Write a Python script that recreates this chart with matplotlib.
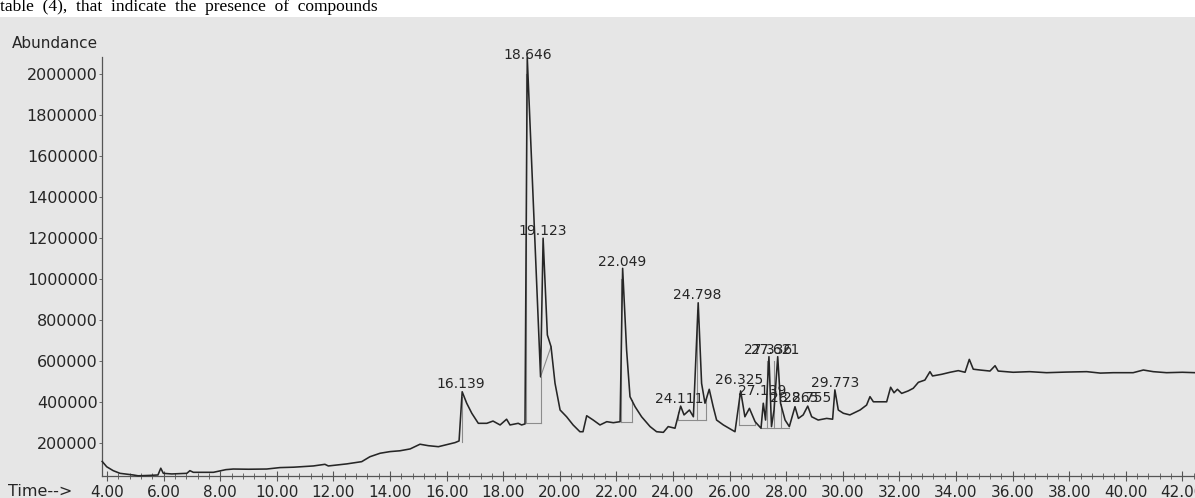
import matplotlib
matplotlib.use("Agg")
import matplotlib.pyplot as plt
from matplotlib.patches import Rectangle
from matplotlib.ticker import FixedLocator, MultipleLocator, FuncFormatter

# ---------------- data ----------------
time_min = [
    3.83, 3.99, 4.22, 4.46, 4.93, 5.10, 5.52, 5.80, 5.90, 5.99,
    6.29, 6.82, 6.93, 7.05, 7.76, 8.20, 8.46, 9.00, 9.64, 10.11,
    10.60, 11.29, 11.70, 11.82, 12.47, 13.00, 13.29, 13.65, 14.00, 14.35,
    14.71, 15.06, 15.35, 15.71, 16.00, 16.30, 16.44, 16.55, 16.71, 16.89,
    17.12, 17.42, 17.64, 17.89, 18.12, 18.24, 18.53, 18.65, 18.77, 18.85,
    19.32, 19.41, 19.56, 19.69, 19.83, 20.01, 20.24, 20.47, 20.71, 20.82,
    20.95, 21.18, 21.42, 21.66, 21.89, 22.13, 22.22, 22.36, 22.48, 22.66,
    22.89, 23.19, 23.42, 23.66, 23.83, 24.07, 24.27, 24.39, 24.58, 24.72,
    24.89, 25.01, 25.13, 25.28, 25.42, 25.54, 25.78, 26.19, 26.39, 26.54,
    26.70, 26.90, 27.11, 27.19, 27.27, 27.39, 27.48, 27.57, 27.70, 27.80,
    27.96, 28.11, 28.31, 28.43, 28.60, 28.76, 28.90, 29.13, 29.43, 29.64,
    29.72, 29.84, 30.02, 30.25, 30.61, 30.84, 30.96, 31.08, 31.37, 31.55,
    31.69, 31.81, 31.93, 32.08, 32.31, 32.49, 32.67, 32.90, 33.08, 33.17,
    33.49, 33.79, 34.08, 34.32, 34.47, 34.61, 34.85, 35.20, 35.38, 35.49,
    36.02, 36.60, 37.20, 37.90, 38.62, 39.10, 39.56, 40.26, 40.62, 40.97,
    41.44, 42.00, 42.45,
]
abundance = [
    110000, 84000, 65000, 52000, 44000, 40000, 42000, 44000, 77000, 52000,
    49000, 52000, 65000, 57000, 57000, 70000, 73000, 72000, 73000, 80000,
    82000, 88000, 96000, 88000, 98000, 109000, 133000, 150000, 158000, 162000,
    171000, 194000, 187000, 182000, 192000, 202000, 210000, 450000, 394000, 345000,
    296000, 296000, 307000, 288000, 316000, 288000, 296000, 288000, 293000, 2080000,
    523000, 1199000, 727000, 670000, 492000, 361000, 328000, 288000, 255000, 255000,
    333000, 312000, 288000, 304000, 299000, 304000, 1052000, 654000, 426000, 377000,
    328000, 280000, 255000, 252000, 280000, 272000, 380000, 337000, 361000, 328000,
    884000, 491000, 394000, 462000, 377000, 312000, 288000, 255000, 454000, 328000,
    369000, 304000, 272000, 394000, 312000, 621000, 280000, 361000, 621000, 394000,
    312000, 280000, 377000, 320000, 337000, 380000, 328000, 312000, 320000, 316000,
    459000, 361000, 345000, 337000, 361000, 385000, 426000, 401000, 401000, 401000,
    472000, 445000, 462000, 442000, 454000, 467000, 496000, 507000, 548000, 527000,
    535000, 545000, 553000, 545000, 608000, 560000, 556000, 551000, 577000, 551000,
    545000, 548000, 543000, 546000, 548000, 541000, 543000, 543000, 556000, 548000,
    543000, 545000, 543000,
]

peak_labels = ["16.139", "18.646", "19.123", "22.049", "24.111", "24.798",
               "26.325", "27.139", "27.336", "27.621", "28.265", "28.755", "29.773"]
label_time = [16.51, 18.86, 19.39, 22.20, 24.23, 24.87,
              26.35, 27.16, 27.36, 27.60, 28.28, 28.75, 29.72]
label_abund = [488000, 2093000, 1236000, 1084000, 413000, 922000,
               505000, 454000, 654000, 654000, 418000, 418000, 495000]

# integration marks (drop lines and baselines)
drop_time = [16.53, 18.81, 19.32, 22.16, 22.54, 24.19, 24.85, 25.17,
             26.34, 26.90, 27.31, 27.57, 27.82]
drop_low = [205000, 296000, 296000, 304000, 304000, 312000, 312000, 312000,
            290000, 290000, 272000, 272000, 272000]
drop_high = [425000, 2000000, 523000, 1000000, 410000, 350000, 850000, 420000,
             440000, 304000, 600000, 600000, 390000]
base_start = [18.81, 22.16, 24.19, 26.34, 27.10]
base_end = [19.32, 22.54, 25.17, 26.90, 28.11]
base_level = [296000, 304000, 312000, 290000, 272000]
shoulder_time = [19.32, 19.69]
shoulder_abund = [523000, 670000]

x_ticks = [4, 6, 8, 10, 12, 14, 16, 18, 20, 22, 24, 26, 28, 30, 32, 34, 36, 38, 40, 42]
y_ticks = [200000, 400000, 600000, 800000, 1000000, 1200000,
           1400000, 1600000, 1800000, 2000000]

# ---------------- figure ----------------
W, H = 1195, 498
fig = plt.figure(figsize=(W / 100, H / 100), dpi=100)
fig.patch.set_facecolor("white")
fig.patches.append(Rectangle((0, 0), 1, 1 - 17 / H, transform=fig.transFigure,
                             facecolor="#e6e6e6", edgecolor="none", zorder=-10))

ax_left, ax_right, ax_top, ax_bottom = 102, 1195, 57, 476
ax = fig.add_axes([ax_left / W, (H - ax_bottom) / H,
                   (ax_right - ax_left) / W, (ax_bottom - ax_top) / H])
ax.set_facecolor("none")

ax.set_xlim(3.823, 42.445)
ax.set_ylim(39000, 2083000)

ink = "#262626"
mark = "#8c8c8c"

for t, lo, hi in zip(drop_time, drop_low, drop_high):
    ax.plot([t, t], [lo, hi], color=mark, lw=0.8, zorder=2)
for t0, t1, lv in zip(base_start, base_end, base_level):
    ax.plot([t0, t1], [lv, lv], color=mark, lw=0.8, zorder=2)
ax.plot(shoulder_time, shoulder_abund, color=mark, lw=0.8, zorder=2)

ax.plot(time_min, abundance, color=ink, lw=1.15, zorder=3, clip_on=False)

for lab, t, v in zip(peak_labels, label_time, label_abund):
    ax.text(t, v, lab, ha="center", va="center", fontsize=10, color=ink,
            family="DejaVu Sans", clip_on=False, zorder=4)

for s in ["top", "right"]:
    ax.spines[s].set_visible(False)
for s in ["left", "bottom"]:
    ax.spines[s].set_color("#555555")
    ax.spines[s].set_linewidth(0.9)

ax.xaxis.set_major_locator(FixedLocator(x_ticks))
ax.xaxis.set_minor_locator(MultipleLocator(0.4))
ax.xaxis.set_major_formatter(FuncFormatter(lambda v, p: f"{v:.2f}"))
ax.yaxis.set_major_locator(FixedLocator(y_ticks))
ax.yaxis.set_major_formatter(FuncFormatter(lambda v, p: f"{int(round(v))}"))

ax.tick_params(axis="x", which="major", direction="inout", length=7, width=0.8,
               color="#555555", labelsize=11, labelcolor=ink, pad=3)
ax.tick_params(axis="x", which="minor", direction="inout", length=4, width=0.6,
               color="#555555")
ax.tick_params(axis="y", which="major", direction="out", length=2, width=0.6,
               color="#555555", labelsize=11.5, labelcolor=ink, pad=1)

fig.text(8 / W, 1 - 491 / H, "Time-->", ha="left", va="center", fontsize=11.5,
         color=ink, family="DejaVu Sans")
fig.text(12 / W, 1 - 43 / H, "Abundance", ha="left", va="center", fontsize=11,
         color=ink, family="DejaVu Sans")
fig.text(0, 1 - 11 / H, "table  (4),  that  indicate  the  presence  of  compounds",
         ha="left", va="baseline", fontsize=12.5, color="black",
         family="Liberation Serif")

fig.savefig("out.png", dpi=100)
